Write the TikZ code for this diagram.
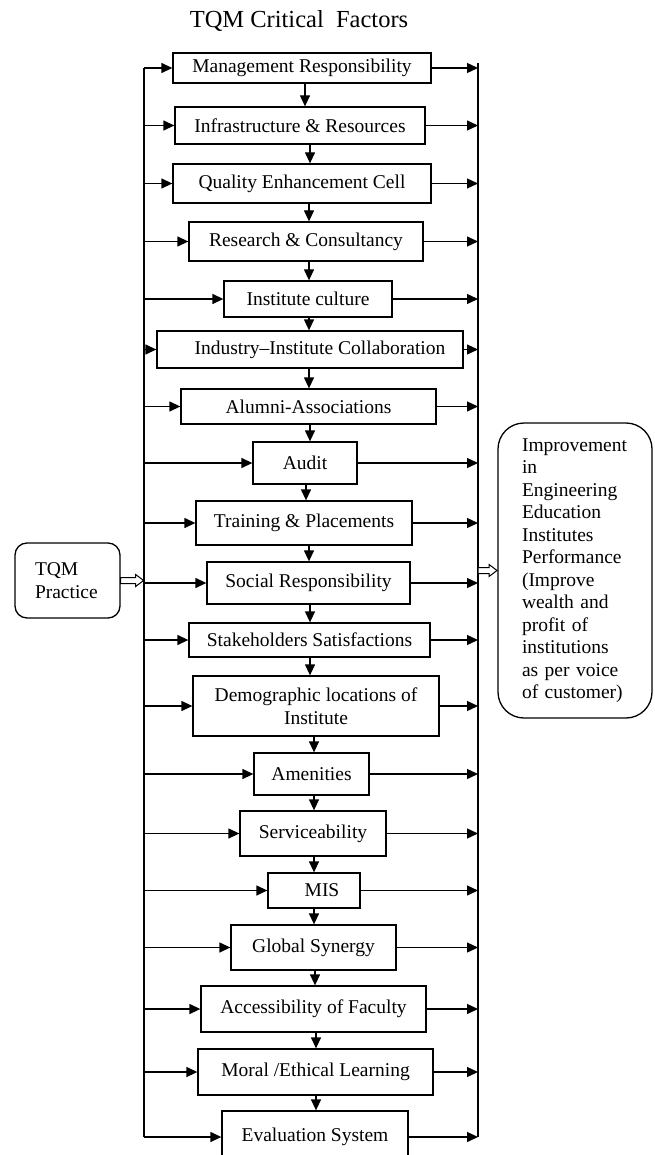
\documentclass[tikz,border=0pt]{standalone}
\usepackage{fontspec}
\setmainfont{Liberation Serif}
\usetikzlibrary{arrows.meta,calc}
\tikzset{
 box/.style={draw, line width=1.3pt, inner sep=0pt, align=center, font=\fontsize{19.5}{22.5}\selectfont},
 arr/.style={line width=1.3pt, -{Triangle[length=11pt,width=10pt]}},
 bus/.style={line width=1.3pt},
 hollow/.style={line width=1pt, fill=white},
}
\newcommand{\bx}[6]{\node[box, minimum width={#4-#2}, minimum height={#5-#3}] (#1) at ({(#2+#4)/2},{(#3+#5)/2}) {#6};}
\newcommand{\dn}[3]{\draw[arr] (#1.south -| #3,0) -- (#2.north -| #3,0);}
\newcommand{\lr}[1]{\draw[arr] (144,0 |- #1.west) -- (#1.west); \draw[arr] (#1.east) -- (478,0 |- #1.east);}
\begin{document}
\begin{tikzpicture}[x=1pt,y=-1pt]
\useasboundingbox (0,0) rectangle (654,1155);
\node[font=\fontsize{24.5}{28}\selectfont] (title) at (299,21) {TQM Critical\ \ Factors};
\bx{mr}{173}{53}{431}{83}{Management Responsibility}
\bx{ir}{175}{107}{425}{144}{Infrastructure \& Resources}
\bx{qe}{173}{164}{431}{203}{Quality Enhancement Cell}
\bx{rc}{189}{222}{423}{261}{Research \& Consultancy}
\bx{ic}{224}{281}{392}{317}{Institute culture}
\bx{iic}{157}{331}{463}{368}{\hspace{20pt}Industry–Institute Collaboration}
\bx{aa}{181}{389}{436}{424}{Alumni-Associations}
\bx{au}{253}{442}{357}{484}{Audit}
\bx{tp}{196}{501}{412}{545}{Training \& Placements}
\bx{sr}{207}{562}{410}{604}{Social Responsibility}
\bx{ss}{189}{623}{430}{657}{Stakeholders Satisfactions}
\bx{dl}{193}{676}{439}{736}{Demographic locations of\\Institute}
\bx{am}{254}{753}{369}{795}{Amenities}
\bx{sv}{240}{811}{386}{856}{Serviceability}
\bx{mis}{268}{873}{360}{908}{\hspace{16pt}MIS}
\bx{gs}{231}{925}{396}{970}{Global Synergy}
\bx{af}{201}{986}{426}{1032}{Accessibility of Faculty}
\bx{me}{198}{1049}{433}{1095}{Moral /Ethical Learning}
\bx{es}{222}{1111}{408}{1163}{Evaluation System}
% down arrows
\dn{mr}{ir}{305}
\dn{ir}{qe}{310}
\dn{qe}{rc}{309}
\dn{rc}{ic}{309}
\dn{ic}{iic}{309}
\dn{iic}{aa}{309}
\dn{aa}{au}{310}
\dn{au}{tp}{306}
\dn{tp}{sr}{309}
\dn{sr}{ss}{310}
\dn{ss}{dl}{310}
\dn{dl}{am}{314}
\dn{am}{sv}{314}
\dn{sv}{mis}{314}
\dn{mis}{gs}{314}
\dn{gs}{af}{315}
\dn{af}{me}{316}
\dn{me}{es}{316}
% buses
\coordinate (Lt) at (144,0 |- mr.west);
\coordinate (Lb) at (144,0 |- es.west);
\coordinate (Rt) at (478,63);
\coordinate (Rb) at (478,0 |- es.east);
\draw[bus] (Lt) -- (Lb);
\draw[bus] (Rt) -- (Rb);
\foreach \n in {mr,ir,qe,rc,ic,iic,aa,au,tp,sr,ss,dl,am,sv,mis,gs,af,me,es}{\lr{\n}}
% side boxes
\node[box, rounded corners=12pt, align=left, text width=65pt, inner xsep=20pt, minimum height=75pt] (tqm) at (67.5,580.5) {TQM\\Practice};
\node[box, rounded corners=26pt, align=left, text width=106pt, inner xsep=24pt, minimum height=295pt] (out) at (575,570.5) {Improvement\\in\\Engineering\\Education\\Institutes\\Performance\\(Improve\\wealth and\\profit of\\institutions\\as per voice\\of customer)};
% hollow arrows
\coordinate (Lh) at (tqm.east);
\draw[hollow] (Lh) ++(0,3) -- ++(15,0) -- ++(0,3) -- ++(8,-6) -- ++(-8,-6) -- ++(0,3) -- ++(-15,0) -- cycle;
\coordinate (Rh) at (478,0 |- out.west);
\draw[hollow] (Rh) ++(0,3) -- ++(11,0) -- ++(0,3) -- ++(8,-6) -- ++(-8,-6) -- ++(0,3) -- ++(-11,0) -- cycle;
\end{tikzpicture}
\end{document}
